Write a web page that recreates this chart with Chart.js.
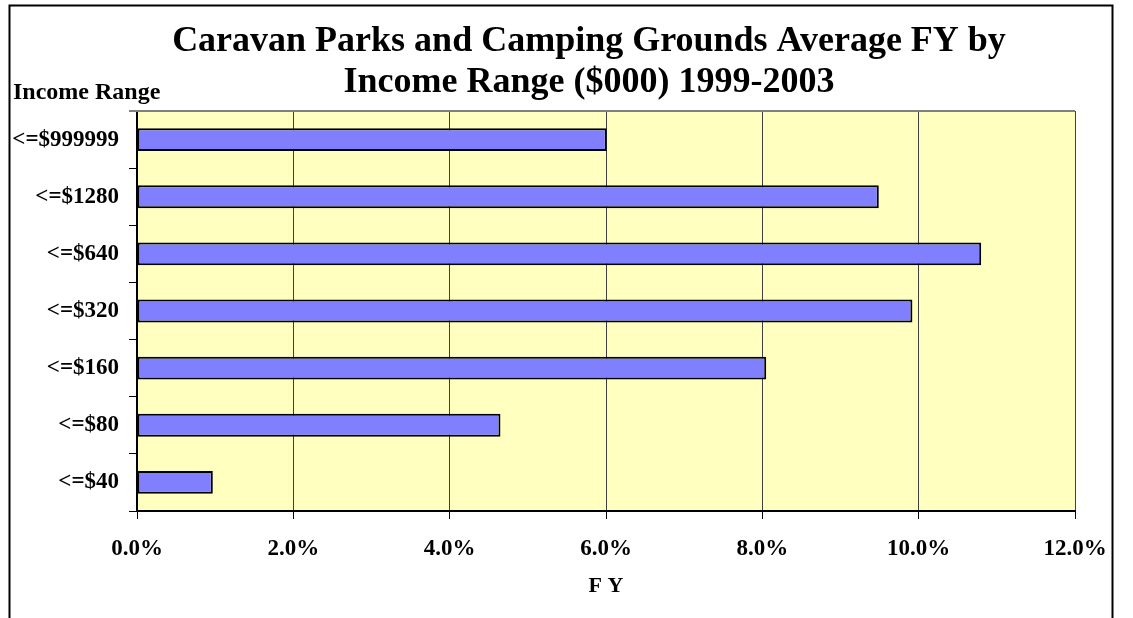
<!DOCTYPE html>
<html>
<head>
<meta charset="utf-8">
<title>Caravan Parks and Camping Grounds Average FY by Income Range</title>
<script src="https://cdn.jsdelivr.net/npm/chart.js@4"></script>
<style>
  html, body { margin: 0; padding: 0; background: #fff; }
  #wrap { width: 1133px; height: 618px; }
</style>
</head>
<body>
<div id="wrap"><canvas id="fyChart" width="1133" height="618"></canvas></div>
<script>
// income bands, top to bottom
const incomeRanges = ["<=$999999", "<=$1280", "<=$640", "<=$320", "<=$160", "<=$80", "<=$40"];
// average FY, percent
const fyValues = [6.01, 9.49, 10.80, 9.92, 8.05, 4.65, 0.97];
const titleLines = ["Caravan Parks and Camping Grounds Average FY by", "Income Range ($000) 1999-2003"];

const serif = "'Liberation Serif', 'Times New Roman', serif";

// yellow plot fill, outer frame and the extra captions
const decorations = {
  id: "decorations",
  beforeDraw(chart) {
    const { ctx, chartArea: a } = chart;
    ctx.save();
    ctx.fillStyle = "#fff";
    ctx.fillRect(0, 0, chart.width, chart.height);
    ctx.fillStyle = "#FFFFC0";
    ctx.fillRect(a.left, a.top, a.right - a.left, a.bottom - a.top);
    ctx.restore();
  },
  afterDraw(chart) {
    const { ctx, chartArea: a } = chart;
    ctx.save();
    // top edge of the plot
    ctx.strokeStyle = "#808080";
    ctx.lineWidth = 2;
    ctx.beginPath();
    ctx.moveTo(a.left - 8, a.top);
    ctx.lineTo(a.right, a.top);
    ctx.stroke();
    // frame
    ctx.strokeStyle = "#000";
    ctx.lineWidth = 2;
    ctx.strokeRect(9.5, 5.5, 1103, 640);
    // titles
    ctx.fillStyle = "#000";
    ctx.textAlign = "center";
    ctx.textBaseline = "middle";
    ctx.font = "bold 36px " + serif;
    ctx.fillText(titleLines[0], 589, 42);
    ctx.fillText(titleLines[1], 589, 83);
    ctx.textAlign = "left";
    ctx.textBaseline = "alphabetic";
    ctx.font = "bold 24px " + serif;
    ctx.fillText("Income Range", 13, 99);
    ctx.restore();
  }
};

new Chart(document.getElementById("fyChart").getContext("2d"), {
  type: "bar",
  data: {
    labels: incomeRanges,
    datasets: [
      {
        label: "F Y",
        data: fyValues,
        backgroundColor: "#8080FF",
        borderColor: "#000",
        borderWidth: 2,
        borderSkipped: false,
        categoryPercentage: 1,
        barPercentage: 0.4,
      },
    ],
  },
  options: {
    indexAxis: "y",
    responsive: false,
    animation: false,
    layout: { padding: { left: 0, right: 58, top: 111, bottom: 17 } },
    plugins: {
      legend: { display: false },
      tooltip: { enabled: false },
      title: { display: false },
    },
    scales: {
      x: {
        min: 0,
        max: 12,
        afterFit(scale) { scale.height = 90; },
        ticks: {
          stepSize: 2,
          color: "#000",
          padding: 16,
          font: { family: serif, size: 23, weight: "bold" },
          callback: (v) => Number(v).toFixed(1) + "%",
        },
        grid: { color: "#404040", lineWidth: 1, tickLength: 8, tickColor: "#000" },
        border: { color: "#000", width: 2 },
        title: {
          display: true,
          text: "F Y",
          color: "#000",
          font: { family: serif, size: 22, weight: "bold" },
          padding: { top: 0, bottom: 1 },
        },
      },
      y: {
        afterFit(scale) { scale.width = 137; },
        ticks: {
          color: "#000",
          padding: 10,
          font: { family: serif, size: 23, weight: "bold" },
        },
        grid: { offset: true, drawOnChartArea: false, tickLength: 8, color: "#000" },
        border: { color: "#000", width: 2 },
      },
    },
  },
  plugins: [decorations],
});
</script>
</body>
</html>
